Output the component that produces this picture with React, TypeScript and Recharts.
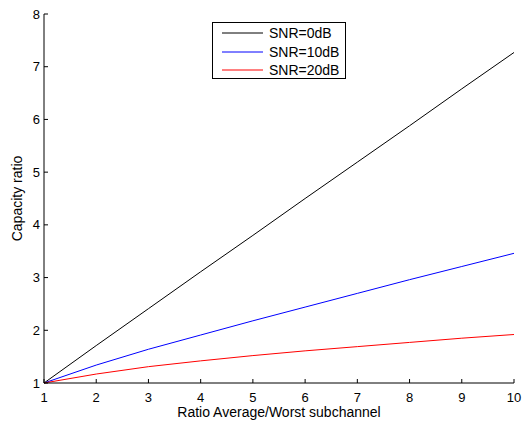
import React from 'react';
import { LineChart, Line, XAxis, YAxis, Legend } from 'recharts';

// ratio average/worst subchannel
const ratios = [1, 2, 3, 4, 5, 6, 7, 8, 9, 10];
// capacity ratio
const snr0 = [1, 1.71, 2.41, 3.11, 3.8, 4.5, 5.19, 5.88, 6.58, 7.27];
const snr10 = [1, 1.34, 1.64, 1.91, 2.18, 2.44, 2.7, 2.96, 3.21, 3.46];
const snr20 = [1, 1.17, 1.31, 1.42, 1.52, 1.61, 1.69, 1.77, 1.85, 1.92];

const xTicks = [1, 2, 3, 4, 5, 6, 7, 8, 9, 10];
const yTicks = [1, 2, 3, 4, 5, 6, 7, 8];

const series = [
  { key: 'snr0', name: 'SNR=0dB', color: '#000000' },
  { key: 'snr10', name: 'SNR=10dB', color: '#0000ff' },
  { key: 'snr20', name: 'SNR=20dB', color: '#ff0000' },
];

const data = ratios.map((r, i) => ({
  ratio: r,
  snr0: snr0[i],
  snr10: snr10[i],
  snr20: snr20[i],
}));

const font = 'Liberation Sans, Arial, Helvetica, sans-serif';

// ticks point inward, matlab style
function XTick(props: any) {
  const { x, y, payload } = props;
  return (
    <g>
      <line x1={x} x2={x} y1={y} y2={y - 4} stroke="#000" />
      <text x={x} y={y + 19} textAnchor="middle" fill="#000" fontSize={13} fontFamily={font}>
        {payload.value}
      </text>
    </g>
  );
}

function YTick(props: any) {
  const { x, y, payload } = props;
  return (
    <g>
      <line x1={x} x2={x + 4} y1={y} y2={y} stroke="#000" />
      <text x={x - 4} y={y + 4.6} textAnchor="end" fill="#000" fontSize={13} fontFamily={font}>
        {payload.value}
      </text>
    </g>
  );
}

function LegendBox() {
  return (
    <div
      style={{
        border: '1px solid #000',
        background: '#fff',
        width: 134,
        height: 57,
        paddingTop: 1,
        fontFamily: font,
        fontSize: 14,
        lineHeight: '18.5px',
        color: '#000',
        boxSizing: 'border-box',
      }}
    >
      {series.map((s) => (
        <div key={s.key} style={{ display: 'flex', alignItems: 'center', height: 18.5 }}>
          <svg width={56} height={10} style={{ display: 'block' }}>
            <line x1={9} x2={50} y1={5} y2={5} stroke={s.color} strokeWidth={1} />
          </svg>
          <span>{s.name}</span>
        </div>
      ))}
    </div>
  );
}

export default function App() {
  return (
    <div style={{ position: 'absolute', left: 0, top: 0, width: 522, height: 424, background: '#fff' }}>
      <LineChart width={522} height={424} data={data} margin={{ top: 14, right: 8, left: 0, bottom: 0 }}>
        <XAxis
          dataKey="ratio"
          type="number"
          domain={[1, 10]}
          ticks={xTicks}
          height={41}
          stroke="#000"
          tickLine={false}
          tickSize={0}
          tickMargin={0}
          tick={<XTick />}
          label={{
            value: 'Ratio Average/Worst subchannel',
            position: 'insideBottom',
            offset: 7,
            fill: '#000',
            fontSize: 14,
            fontFamily: font,
          }}
        />
        <YAxis
          type="number"
          domain={[1, 8]}
          ticks={yTicks}
          width={44}
          stroke="#000"
          tickLine={false}
          tickSize={0}
          tickMargin={0}
          tick={<YTick />}
          label={{
            value: 'Capacity ratio',
            angle: -90,
            position: 'insideLeft',
            offset: 17,
            fill: '#000',
            fontSize: 14,
            fontFamily: font,
            style: { textAnchor: 'middle' },
          }}
        />
        <Legend
          layout="horizontal"
          verticalAlign="middle"
          align="center"
          wrapperStyle={{ top: 22, left: 212, width: 134 }}
          content={() => <LegendBox />}
        />
        {series.map((s) => (
          <Line
            key={s.key}
            dataKey={s.key}
            name={s.name}
            stroke={s.color}
            strokeWidth={1}
            dot={false}
            type="linear"
            isAnimationActive={false}
          />
        ))}
      </LineChart>
    </div>
  );
}
